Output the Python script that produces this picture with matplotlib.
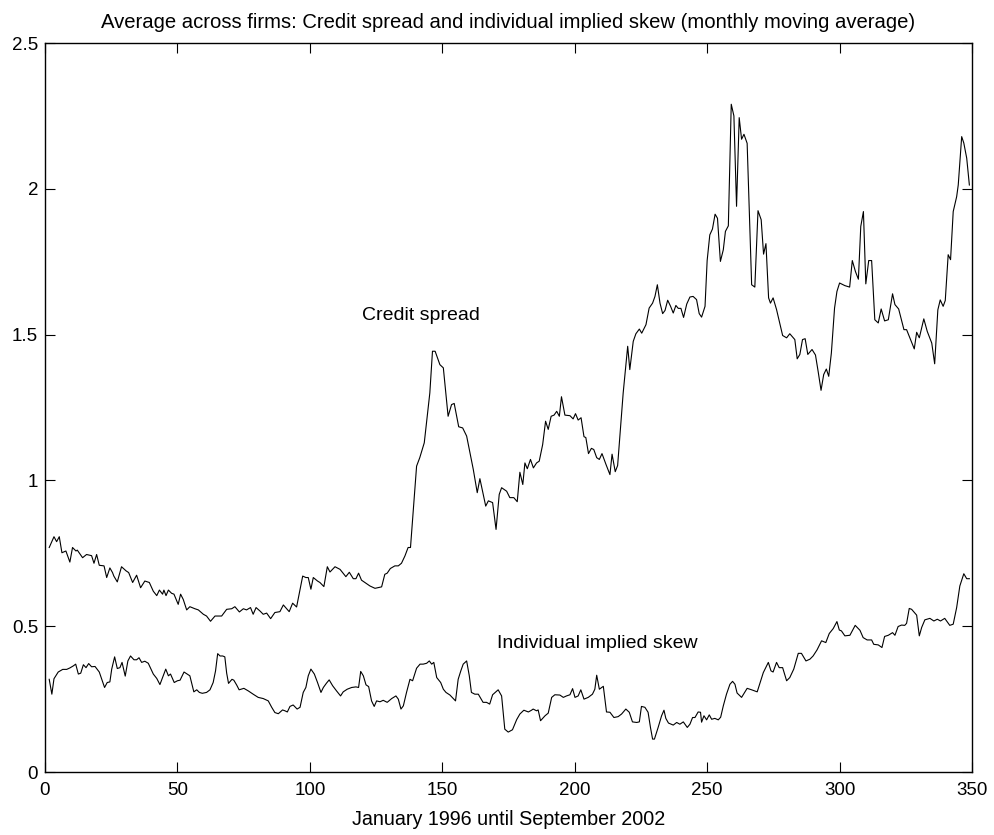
import matplotlib
matplotlib.use("Agg")
import matplotlib.pyplot as plt

plt.rcParams['font.family'] = ['Liberation Sans', 'DejaVu Sans']

# Credit spread, averaged across firms (observation index, value)
cs_t = [1.6, 3.4, 4.4, 5.4, 6.4, 7.9, 9.4, 10.4, 11.7, 12.2, 14.2, 15.7, 17.6, 18.5, 19.5,
        20.5, 22.3, 23.3, 24.5, 25.5, 26.0, 27.3, 28.9, 30.6, 31.6, 33.1, 34.6, 36.1, 37.7,
        39.4, 40.9, 42.2, 43.2, 44.4, 44.9, 45.7, 46.6, 47.8, 48.7, 50.3, 51.2, 52.2, 53.5,
        54.7, 56.6, 57.9, 59.8, 61.0, 62.5, 64.2, 66.7, 68.6, 70.5, 71.7, 73.4, 74.9, 76.1,
        77.6, 78.6, 79.7, 81.2, 82.4, 83.7, 85.2, 86.8, 88.7, 90.0, 92.2, 93.5, 95.0, 97.3,
        98.5, 99.4, 100.4, 101.3, 102.9, 103.8, 105.3, 106.6, 107.6, 109.5, 111.4, 113.6,
        114.9, 116.4, 117.4, 118.4, 119.5, 120.8, 122.7, 124.6, 127.1, 128.3, 129.2, 130.4,
        132.1, 133.4, 134.6, 135.9, 137.1, 138.0, 140.3, 141.5, 143.2, 145.3, 146.3, 147.3,
        149.1, 150.4, 152.2, 153.5, 154.5, 156.2, 157.7, 159.2, 161.7, 163.2, 164.2, 166.4,
        167.4, 169.0, 170.3, 171.5, 172.4, 174.3, 175.5, 177.0, 178.3, 179.3, 180.4, 181.2,
        182.1, 183.3, 184.4, 185.6, 186.6, 187.9, 189.0, 190.0, 191.1, 192.2, 193.2, 194.2,
        195.0, 196.3, 198.2, 199.4, 200.3, 201.3, 202.4, 203.5, 204.2, 205.2, 206.3, 207.2,
        208.3, 209.3, 210.3, 211.8, 213.3, 214.1, 215.3, 216.2, 217.1, 218.3, 220.0, 220.8,
        222.1, 223.1, 224.4, 225.3, 226.9, 228.1, 229.4, 230.3, 231.2, 232.2, 233.2, 234.1,
        235.1, 236.2, 237.2, 238.2, 239.1, 240.1, 241.1, 242.3, 243.5, 244.7, 246.0, 247.0,
        247.9, 249.2, 250.0, 251.0, 252.0, 253.0, 253.9, 255.0, 256.1, 256.9, 258.0, 259.1,
        260.1, 261.1, 262.1, 263.0, 263.9, 265.1, 266.8, 268.0, 269.2, 270.4, 271.3, 272.2,
        273.2, 273.9, 274.9, 276.2, 277.4, 278.5, 280.0, 281.2, 283.1, 284.0, 285.0, 286.0,
        287.0, 288.0, 289.6, 290.9, 291.9, 293.0, 294.0, 295.0, 295.9, 296.9, 298.1, 299.0,
        300.0, 302.0, 303.8, 304.8, 306.0, 307.1, 308.0, 309.0, 309.9, 311.0, 312.1, 313.3,
        314.6, 315.7, 317.0, 318.4, 320.0, 320.9, 322.3, 324.3, 325.3, 326.8, 328.2, 329.1,
        330.1, 331.8, 333.1, 334.8, 335.9, 337.1, 338.0, 339.1, 339.9, 341.0, 341.9, 342.9,
        344.2, 344.8, 346.1, 346.9, 348.0, 349.0]
cs_v = [0.77, 0.807, 0.79, 0.807, 0.752, 0.758, 0.72, 0.77, 0.758, 0.761, 0.735, 0.746, 0.742,
        0.716, 0.746, 0.709, 0.707, 0.667, 0.70, 0.684, 0.672, 0.652, 0.704, 0.69, 0.684, 0.65,
        0.675, 0.632, 0.655, 0.65, 0.62, 0.605, 0.624, 0.61, 0.624, 0.605, 0.624, 0.613, 0.61,
        0.575, 0.61, 0.592, 0.556, 0.567, 0.56, 0.556, 0.541, 0.535, 0.517, 0.535, 0.535, 0.558,
        0.56, 0.567, 0.549, 0.56, 0.556, 0.564, 0.541, 0.564, 0.552, 0.541, 0.545, 0.526, 0.547,
        0.55, 0.573, 0.55, 0.579, 0.566, 0.672, 0.667, 0.667, 0.627, 0.667, 0.655, 0.65, 0.636,
        0.704, 0.686, 0.704, 0.695, 0.67, 0.685, 0.663, 0.663, 0.682, 0.658, 0.65, 0.638, 0.63,
        0.635, 0.678, 0.682, 0.698, 0.707, 0.707, 0.716, 0.741, 0.77, 0.77, 1.049, 1.078, 1.129,
        1.30, 1.443, 1.443, 1.397, 1.386, 1.22, 1.26, 1.264, 1.184, 1.18, 1.152, 1.038, 0.958,
        1.006, 0.912, 0.93, 0.924, 0.832, 0.952, 0.975, 0.963, 0.941, 0.941, 0.927, 1.028, 0.986,
        1.06, 1.04, 1.072, 1.043, 1.06, 1.066, 1.123, 1.203, 1.175, 1.22, 1.224, 1.237, 1.22,
        1.287, 1.224, 1.222, 1.211, 1.229, 1.207, 1.215, 1.15, 1.147, 1.092, 1.11, 1.106, 1.078,
        1.072, 1.092, 1.055, 1.02, 1.09, 1.03, 1.051, 1.157, 1.30, 1.46, 1.38, 1.477, 1.503,
        1.519, 1.505, 1.534, 1.591, 1.608, 1.631, 1.671, 1.608, 1.572, 1.583, 1.618, 1.597,
        1.574, 1.60, 1.59, 1.59, 1.559, 1.605, 1.629, 1.631, 1.62, 1.572, 1.56, 1.597, 1.754,
        1.842, 1.862, 1.913, 1.899, 1.751, 1.791, 1.854, 1.873, 2.29, 2.25, 1.94, 2.244, 2.17,
        2.187, 2.156, 1.671, 1.663, 1.925, 1.894, 1.776, 1.812, 1.626, 1.608, 1.626, 1.586,
        1.54, 1.497, 1.489, 1.503, 1.483, 1.417, 1.432, 1.483, 1.486, 1.432, 1.449, 1.43, 1.374,
        1.309, 1.363, 1.382, 1.357, 1.437, 1.591, 1.648, 1.677, 1.668, 1.663, 1.754, 1.716,
        1.69, 1.871, 1.922, 1.674, 1.754, 1.754, 1.551, 1.54, 1.588, 1.547, 1.551, 1.64, 1.603,
        1.588, 1.517, 1.517, 1.483, 1.451, 1.508, 1.489, 1.554, 1.511, 1.471, 1.40, 1.585,
        1.619, 1.597, 1.617, 1.774, 1.757, 1.922, 1.973, 2.013, 2.179, 2.157, 2.105, 2.013]

# Individual implied skew, averaged across firms
sk_t = [1.6, 2.6, 3.4, 5.0, 6.7, 8.2, 9.4, 10.7, 11.6, 12.6, 13.5, 14.5, 15.5, 16.5, 17.6,
        18.9, 20.5, 21.8, 22.5, 23.5, 24.5, 25.2, 26.3, 27.3, 28.3, 29.1, 30.3, 31.3, 32.3,
        33.6, 34.6, 35.5, 36.5, 37.7, 39.0, 40.9, 42.2, 43.4, 44.4, 45.6, 46.6, 47.4, 48.8,
        50.0, 51.0, 52.5, 53.7, 54.7, 56.2, 57.3, 58.3, 59.4, 61.0, 62.3, 63.5, 64.4, 65.2,
        66.1, 67.1, 67.9, 68.6, 69.3, 70.6, 71.3, 72.4, 73.3, 75.1, 76.8, 78.6, 80.5, 82.4,
        84.3, 85.6, 86.8, 88.1, 89.7, 90.6, 91.5, 92.5, 93.7, 95.2, 96.3, 97.5, 98.5, 99.4,
        100.4, 101.7, 102.9, 104.2, 105.1, 106.3, 107.3, 108.6, 110.1, 111.6, 112.6, 114.1,
        115.8, 117.4, 118.4, 119.2, 120.2, 121.2, 122.2, 123.3, 124.3, 125.2, 126.5, 127.7,
        129.2, 130.9, 132.5, 133.4, 134.4, 135.3, 136.5, 137.8, 138.8, 140.3, 141.6, 142.8,
        144.1, 145.1, 146.0, 146.8, 147.9, 149.4, 150.4, 151.4, 152.9, 155.0, 156.0, 157.0,
        157.9, 159.2, 160.2, 161.0, 162.3, 163.6, 165.4, 166.7, 167.9, 169.0, 171.1, 172.4,
        173.6, 174.9, 176.5, 178.1, 179.3, 180.8, 182.5, 183.7, 184.3, 185.6, 186.2, 187.1,
        188.8, 190.0, 191.3, 192.5, 194.4, 195.7, 196.9, 198.2, 199.2, 200.1, 201.3, 202.3,
        203.5, 205.1, 206.7, 207.6, 208.3, 209.3, 210.8, 212.0, 213.3, 214.8, 216.4, 217.7,
        219.3, 220.6, 221.8, 223.4, 224.4, 225.2, 226.5, 227.7, 228.6, 229.4, 230.1, 231.5,
        232.8, 233.7, 234.4, 235.4, 237.2, 238.5, 239.7, 241.0, 242.5, 243.5, 244.5, 245.4,
        246.6, 247.5, 247.9, 248.8, 249.8, 250.8, 251.7, 252.9, 254.2, 255.1, 256.1, 257.3,
        258.6, 259.6, 260.5, 261.3, 263.0, 265.1, 266.8, 268.9, 271.2, 273.1, 274.1, 274.9,
        276.2, 277.2, 278.5, 280.0, 281.2, 282.7, 284.4, 285.6, 287.3, 288.8, 290.0, 291.5,
        293.2, 294.8, 296.1, 297.6, 299.0, 299.9, 300.7, 302.0, 303.9, 305.9, 307.7, 308.9,
        310.4, 312.1, 312.9, 314.6, 316.0, 317.0, 318.4, 320.0, 320.9, 322.1, 323.4, 324.6,
        325.3, 326.3, 327.2, 329.1, 330.1, 331.0, 332.2, 334.1, 335.6, 336.9, 338.1, 339.7,
        341.6, 342.9, 344.2, 345.4, 346.9, 348.0, 349.0]
sk_v = [0.318, 0.267, 0.32, 0.343, 0.352, 0.352, 0.357, 0.364, 0.37, 0.336, 0.339, 0.368,
        0.358, 0.372, 0.361, 0.362, 0.343, 0.309, 0.29, 0.307, 0.309, 0.353, 0.395, 0.355,
        0.358, 0.376, 0.329, 0.381, 0.398, 0.385, 0.385, 0.392, 0.376, 0.38, 0.373, 0.336,
        0.321, 0.30, 0.324, 0.353, 0.33, 0.336, 0.307, 0.313, 0.315, 0.343, 0.336, 0.33,
        0.275, 0.282, 0.273, 0.27, 0.273, 0.282, 0.307, 0.347, 0.406, 0.398, 0.398, 0.395,
        0.339, 0.304, 0.318, 0.315, 0.298, 0.282, 0.287, 0.278, 0.267, 0.256, 0.252, 0.244,
        0.222, 0.204, 0.20, 0.213, 0.21, 0.206, 0.225, 0.23, 0.216, 0.222, 0.273, 0.29, 0.33,
        0.353, 0.336, 0.307, 0.273, 0.29, 0.305, 0.316, 0.296, 0.278, 0.261, 0.275, 0.284,
        0.29, 0.292, 0.29, 0.345, 0.33, 0.299, 0.293, 0.244, 0.225, 0.244, 0.241, 0.246,
        0.239, 0.252, 0.261, 0.25, 0.216, 0.227, 0.273, 0.318, 0.313, 0.356, 0.37, 0.37,
        0.373, 0.381, 0.37, 0.376, 0.324, 0.307, 0.284, 0.273, 0.264, 0.244, 0.318, 0.347,
        0.37, 0.381, 0.33, 0.273, 0.267, 0.267, 0.239, 0.239, 0.233, 0.265, 0.282, 0.261,
        0.147, 0.137, 0.145, 0.18, 0.199, 0.212, 0.206, 0.212, 0.216, 0.21, 0.213, 0.176,
        0.193, 0.202, 0.256, 0.265, 0.264, 0.256, 0.261, 0.265, 0.286, 0.256, 0.261, 0.282,
        0.25, 0.256, 0.267, 0.284, 0.332, 0.284, 0.294, 0.206, 0.205, 0.187, 0.19, 0.199,
        0.216, 0.205, 0.172, 0.17, 0.172, 0.225, 0.222, 0.205, 0.153, 0.113, 0.113, 0.153,
        0.193, 0.212, 0.184, 0.168, 0.161, 0.17, 0.164, 0.172, 0.153, 0.164, 0.187, 0.187,
        0.206, 0.205, 0.171, 0.193, 0.179, 0.196, 0.181, 0.184, 0.179, 0.188, 0.227, 0.267,
        0.301, 0.311, 0.301, 0.271, 0.256, 0.287, 0.282, 0.275, 0.341, 0.376, 0.347, 0.343,
        0.376, 0.358, 0.358, 0.313, 0.324, 0.353, 0.407, 0.407, 0.381, 0.387, 0.398, 0.419,
        0.45, 0.444, 0.475, 0.492, 0.516, 0.487, 0.484, 0.467, 0.469, 0.503, 0.486, 0.461,
        0.453, 0.453, 0.438, 0.436, 0.427, 0.465, 0.469, 0.478, 0.469, 0.499, 0.504, 0.503,
        0.51, 0.561, 0.558, 0.538, 0.467, 0.496, 0.522, 0.527, 0.518, 0.524, 0.518, 0.527,
        0.503, 0.507, 0.564, 0.638, 0.68, 0.663, 0.663]

fig = plt.figure(figsize=(9.95, 8.35), dpi=100)
ax = fig.add_axes([0.0452, 0.0754, 0.9317, 0.8731])

ax.plot(cs_t, cs_v, color='black', linewidth=0.8)
ax.plot(sk_t, sk_v, color='black', linewidth=0.8)

ax.text(119.7, 1.565, 'Credit spread', fontsize=14, va='center', ha='left')
ax.text(170.6, 0.44, 'Individual implied skew', fontsize=14, va='center', ha='left')

ax.set_xlim(0, 350)
ax.set_ylim(0, 2.5)
ax.set_xticks([0, 50, 100, 150, 200, 250, 300, 350])
ax.set_yticks([0, 0.5, 1, 1.5, 2, 2.5])
ax.set_yticklabels(['0', '0.5', '1', '1.5', '2', '2.5'])
ax.tick_params(direction='in', length=7, width=0.8, top=True, right=True, labelsize=13.5)
ax.tick_params(axis='x', pad=7)
ax.tick_params(axis='y', pad=5)
for s in ax.spines.values():
    s.set_linewidth(1.0)

ax.set_title('Average across firms: Credit spread and individual implied skew (monthly moving average)',
             fontsize=14.6, pad=11)
ax.set_xlabel('January 1996 until September 2002', fontsize=14.2, labelpad=8)

fig.savefig('out.png', dpi=100)
